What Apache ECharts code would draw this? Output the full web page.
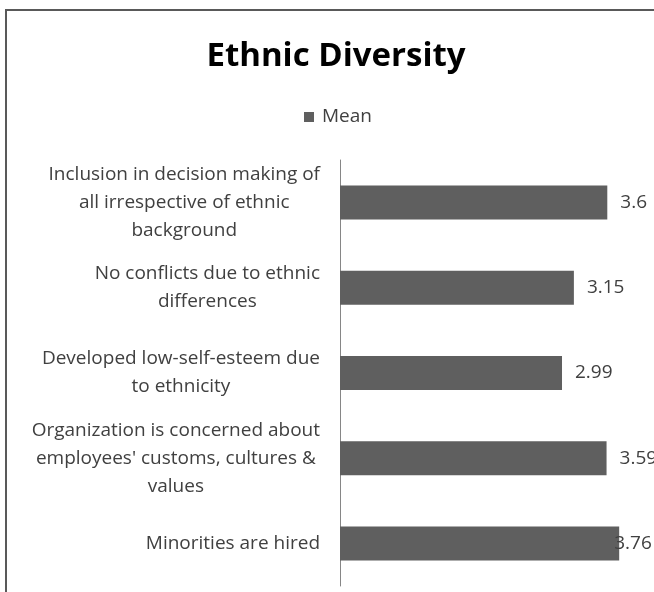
<!DOCTYPE html>
<html>
<head>
<meta charset="utf-8">
<title>Ethnic Diversity</title>
<script src="https://cdn.jsdelivr.net/npm/echarts@6/dist/echarts.min.js"></script>
<style>
  html, body { margin: 0; padding: 0; background: #ffffff; }
  #chart { width: 654px; height: 592px; }
</style>
</head>
<body>
<div id="chart"></div>
<script>
// Survey items (top to bottom) and their mean scores
const categories = [
  'Inclusion in decision making of\nall irrespective of ethnic\nbackground',
  'No conflicts due to ethnic\ndifferences',
  'Developed low-self-esteem due\nto ethnicity',
  "Organization is concerned about\nemployees' customs, cultures &\nvalues",
  'Minorities are hired'
];
const means = [3.6, 3.15, 2.99, 3.59, 3.76];
const seriesName = 'Mean';
const chartTitle = 'Ethnic Diversity';

const FONT = '"Open Sans", "DejaVu Sans", sans-serif';
const BAR_COLOR = '#5f5f5f';
const TEXT_COLOR = '#404040';

// The longest bar's label would run past the right edge, so it is pulled back over the bar end
const maxMean = Math.max(...means);
const barData = means.map(v => v === maxMean
  ? { value: v, label: { distance: -5 } }
  : v);

const chart = echarts.init(document.getElementById('chart'), null, { renderer: 'canvas' });

chart.setOption({
  animation: false,
  backgroundColor: '#ffffff',
  title: {
    text: chartTitle,
    left: 336,
    textAlign: 'center',
    top: 40,
    padding: 0,
    textStyle: {
      fontFamily: FONT,
      fontSize: 33,
      fontWeight: 'bold',
      color: '#000000'
    }
  },
  legend: {
    data: [seriesName],
    left: 304,
    top: 106,
    padding: 0,
    icon: 'rect',
    itemWidth: 10,
    itemHeight: 10,
    textStyle: {
      fontFamily: FONT,
      fontSize: 19,
      color: TEXT_COLOR,
      lineHeight: 22,
      padding: [0, 0, 0, 3]
    }
  },
  grid: {
    left: 340,
    right: 17,
    top: 160,
    bottom: 6,
    containLabel: false
  },
  xAxis: {
    type: 'value',
    min: 0,
    max: 4,
    show: false,
    splitLine: { show: false }
  },
  yAxis: {
    type: 'category',
    data: categories,
    inverse: true,
    axisLine: { show: true, lineStyle: { color: '#868686', width: 1 } },
    axisTick: { show: false },
    axisLabel: {
      margin: 20,
      fontFamily: FONT,
      fontSize: 19,
      color: TEXT_COLOR,
      lineHeight: 28,
      formatter: function (value) {
        return value.split('\n').map(line => '{c|' + line + '}').join('\n');
      },
      rich: {
        c: {
          align: 'center',
          fontFamily: FONT,
          fontSize: 19,
          color: TEXT_COLOR,
          lineHeight: 28
        }
      }
    }
  },
  series: [{
    name: seriesName,
    type: 'bar',
    data: barData,
    barWidth: 34,
    itemStyle: { color: BAR_COLOR },
    label: {
      show: true,
      position: 'right',
      distance: 13,
      fontFamily: FONT,
      fontSize: 19,
      color: TEXT_COLOR
    }
  }],
  graphic: [{
    // chart frame (runs off the right and bottom edges)
    type: 'rect',
    silent: true,
    z: 100,
    shape: { x: 6, y: 10, width: 720, height: 720 },
    style: { fill: 'none', stroke: '#595959', lineWidth: 2 }
  }]
});
</script>
</body>
</html>
